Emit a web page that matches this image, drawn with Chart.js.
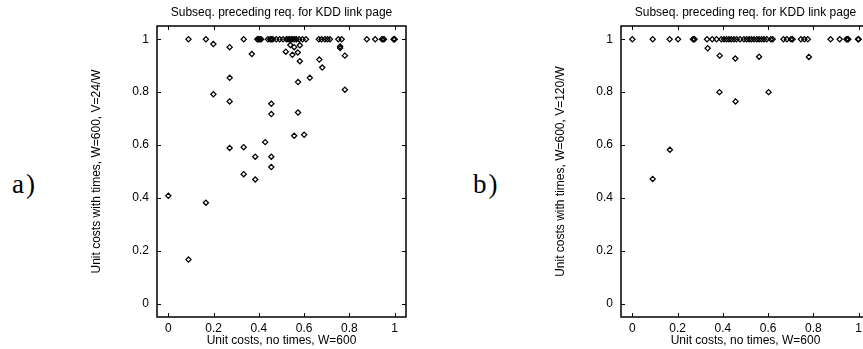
<!DOCTYPE html>
<html>
<head>
<meta charset="utf-8">
<script src="https://cdn.jsdelivr.net/npm/chart.js@4/dist/chart.umd.min.js"></script>
<style>
  html, body { margin: 0; padding: 0; background: #fff; width: 863px; height: 349px; overflow: hidden; }
  .panel { position: absolute; top: 0; width: 431px; height: 349px; }
  .panel canvas { position: absolute; left: 0; top: 0; }
  .ttl { position: absolute; top: 6px; left: 157px; width: 249px; text-align: center;
         font: 12px "Liberation Sans", Arial, sans-serif; line-height: 12px; color: #000; white-space: nowrap; }
  .tag { position: absolute; top: 171px; font: 27px "Liberation Serif", "Times New Roman", serif;
         line-height: 27px; letter-spacing: 2px; color: #000; }
</style>
</head>
<body>
<div class="tag" style="left:12px">a)</div>
<div class="tag" style="left:473px">b)</div>
<div class="panel" style="left:0">
  <canvas id="chartA" width="431" height="349" style="width:431px;height:349px"></canvas>
  <div class="ttl">Subseq. preceding req. for KDD link page</div>
</div>
<div class="panel" style="left:464px">
  <canvas id="chartB" width="431" height="349" style="width:431px;height:349px"></canvas>
  <div class="ttl">Subseq. preceding req. for KDD link page</div>
</div>
<script>
// Tick positions and their labels (shared by both axes of both panels)
const tickValues = [0, 0.2, 0.4, 0.6, 0.8, 1];
const tickLabels = ['0', '0.2', '0.4', '0.6', '0.8', '1'];

const xTitle = 'Unit costs, no times, W=600';
const yTitleA = 'Unit costs with times, W=600, V=24/W';
const yTitleB = 'Unit costs with times, W=600, V=120/W';

// Panel a): V = 24/W
const aX = [
  0.089, 0.166, 0.333, 0.393, 0.398, 0.404, 0.410, 0.440, 0.450, 0.455, 0.462, 0.477,
  0.492, 0.507, 0.522, 0.529, 0.536, 0.544, 0.551, 0.559, 0.566, 0.578, 0.593, 0.608,
  0.665, 0.677, 0.692, 0.703, 0.714, 0.751, 0.766, 0.877, 0.914, 0.944, 0.948, 0.953,
  0.995, 0.998, 1.000,
  0.199, 0.271, 0.369, 0.539, 0.556, 0.581, 0.519, 0.548, 0.572, 0.581, 0.667, 0.680,
  0.759, 0.759, 0.780, 0.271, 0.573, 0.625, 0.199, 0.780, 0.271, 0.455, 0.455, 0.573,
  0.556, 0.600, 0.428, 0.271, 0.333, 0.384, 0.455, 0.455, 0.333, 0.384, 0.000, 0.166,
  0.089
];
const aY = [
  1, 1, 1, 1, 1, 1, 1, 1, 1, 1, 1, 1,
  1, 1, 1, 1, 1, 1, 1, 1, 1, 1, 1, 1,
  1, 1, 1, 1, 1, 1, 1, 1, 1, 1, 1, 1,
  1, 1, 1,
  0.982, 0.970, 0.944, 0.978, 0.970, 0.977, 0.953, 0.941, 0.950, 0.917, 0.923, 0.893,
  0.973, 0.967, 0.938, 0.854, 0.838, 0.854, 0.792, 0.809, 0.765, 0.756, 0.717, 0.723,
  0.635, 0.639, 0.611, 0.589, 0.592, 0.556, 0.556, 0.517, 0.490, 0.470, 0.408, 0.382,
  0.167
];

// Panel b): V = 120/W
const bX = [
  0.000, 0.090, 0.165, 0.202, 0.268, 0.271, 0.275, 0.330, 0.353, 0.372, 0.393, 0.405,
  0.416, 0.427, 0.437, 0.449, 0.461, 0.476, 0.493, 0.505, 0.516, 0.526, 0.538, 0.550,
  0.560, 0.571, 0.582, 0.594, 0.612, 0.620, 0.668, 0.683, 0.701, 0.708, 0.745, 0.760,
  0.775, 0.876, 0.916, 0.946, 0.950, 0.954, 0.997, 1.000,
  0.333, 0.386, 0.455, 0.560, 0.780, 0.385, 0.602, 0.456, 0.166, 0.090
];
const bY = [
  1, 1, 1, 1, 1, 1, 1, 1, 1, 1, 1, 1,
  1, 1, 1, 1, 1, 1, 1, 1, 1, 1, 1, 1,
  1, 1, 1, 1, 1, 1, 1, 1, 1, 1, 1, 1,
  1, 1, 1, 1, 1, 1, 1, 1,
  0.966, 0.938, 0.927, 0.934, 0.933, 0.800, 0.800, 0.765, 0.582, 0.472
];

Chart.defaults.font.family = '"Liberation Sans", Arial, sans-serif';
Chart.defaults.color = '#000';

// Box border plus inward tick marks on all four sides
const boxFrame = {
  id: 'boxFrame',
  afterDatasetsDraw(chart) {
    const { ctx, chartArea: a, scales: { x, y } } = chart;
    const len = 4;
    ctx.save();
    ctx.strokeStyle = '#000';
    ctx.lineWidth = 1;
    ctx.beginPath();
    x.ticks.forEach(t => {
      const px = Math.round(x.getPixelForValue(t.value)) + 0.5;
      ctx.moveTo(px, a.bottom); ctx.lineTo(px, a.bottom - len);
      ctx.moveTo(px, a.top); ctx.lineTo(px, a.top + len);
    });
    y.ticks.forEach(t => {
      const py = Math.round(y.getPixelForValue(t.value)) + 0.5;
      ctx.moveTo(a.left, py); ctx.lineTo(a.left + len, py);
      ctx.moveTo(a.right, py); ctx.lineTo(a.right - len, py);
    });
    ctx.stroke();
    ctx.lineWidth = 1.5;
    ctx.strokeRect(a.left, a.top, a.right - a.left, a.bottom - a.top);
    ctx.restore();
  }
};

function useTicks(scale) {
  scale.ticks = tickValues.map(v => ({ value: v }));
}

function makeChart(id, xs, ys, yTitle) {
  const points = xs.map((v, i) => ({ x: v, y: ys[i] }));
  return new Chart(document.getElementById(id), {
    type: 'scatter',
    data: {
      datasets: [{
        data: points,
        pointStyle: 'rectRot',
        pointRadius: 2.6,
        pointHoverRadius: 2.6,
        borderWidth: 1.25,
        borderColor: '#000',
        backgroundColor: 'rgba(255,255,255,0)'
      }]
    },
    options: {
      responsive: false,
      animation: false,
      devicePixelRatio: 1,
      events: [],
      layout: { padding: { left: 89, right: 25, top: 26, bottom: 1 } },
      plugins: { legend: { display: false }, tooltip: { enabled: false }, title: { display: false } },
      scales: {
        x: {
          type: 'linear', min: -0.05, max: 1.05,
          grid: { display: false, drawTicks: false },
          border: { display: false },
          afterBuildTicks: useTicks,
          afterFit: s => { s.height = 31; },
          ticks: {
            padding: 4, font: { size: 12 }, maxRotation: 0, autoSkip: false,
            callback: (v, i) => tickLabels[i]
          },
          title: { display: true, text: xTitle, font: { size: 12 }, padding: 0 }
        },
        y: {
          type: 'linear', min: -0.05, max: 1.05,
          grid: { display: false, drawTicks: false },
          border: { display: false },
          afterBuildTicks: useTicks,
          afterFit: s => { s.width = 68; },
          ticks: {
            padding: 8, font: { size: 12 }, autoSkip: false,
            callback: (v, i) => tickLabels[i]
          },
          title: { display: true, text: yTitle, font: { size: 12 }, padding: 0 }
        }
      }
    },
    plugins: [boxFrame]
  });
}

makeChart('chartA', aX, aY, yTitleA);
makeChart('chartB', bX, bY, yTitleB);
</script>
</body>
</html>
